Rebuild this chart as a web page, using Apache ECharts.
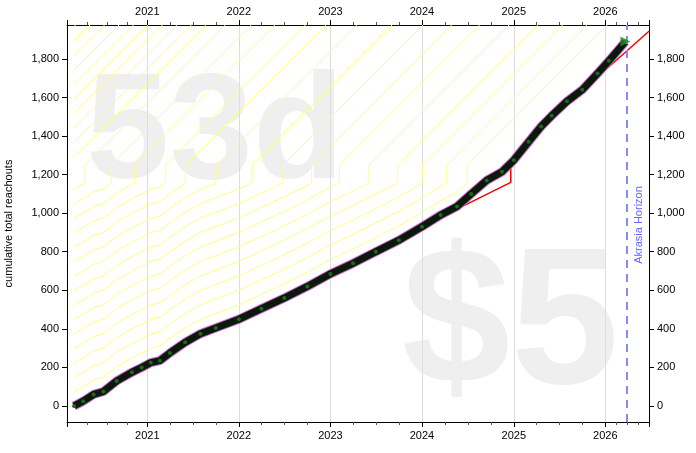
<!DOCTYPE html>
<html><head><meta charset="utf-8">
<script src="https://cdn.jsdelivr.net/npm/echarts@6/dist/echarts.min.js"></script>
<style>html,body{margin:0;padding:0;background:#fff}#c{width:696px;height:453px}</style>
</head><body><div id="c"></div>
<script>
const dataDates = ['2020-03-15','2020-04-20','2020-06-01','2020-07-10','2020-09-01','2020-11-01','2020-12-10','2021-01-15','2021-02-20','2021-04-01','2021-06-01','2021-08-01','2021-10-01','2022-01-01','2022-04-01','2022-07-01','2022-10-01','2023-01-01','2023-04-01','2023-07-01','2023-10-01','2024-01-01','2024-03-15','2024-05-20','2024-07-15','2024-09-15','2024-11-15','2025-01-01','2025-03-01','2025-04-20','2025-06-01','2025-08-01','2025-10-01','2025-12-01','2026-01-15','2026-03-22'];
const dataValues = [0,25,60,75,130,175,200,225,235,275,330,375,405,450,505,560,620,685,740,800,860,930,990,1035,1100,1170,1215,1275,1370,1450,1505,1580,1640,1725,1790,1890];
const roadDates = ['2024-06-10','2024-12-20','2024-12-20','2025-03-01','2025-06-01','2025-09-01','2025-12-25','2026-06-25'];
const roadValues = [1035,1160,1235,1350,1490,1600,1735,1945];
const guideOffsets = [75,150,225,300,375,450,525,600,675,750,825,900,975,1050,1125,1200,1275,1350,1425,1500,1575,1650,1725,1800,1875];
const guideStepLow = 1157, guideStepHigh = 1250, guideSteepPerYear = 475;
const yTicks = [0,200,400,600,800,1000,1200,1400,1600,1800];
const horizonDate = '2026-03-28';

const ts = d => new Date(d + 'T00:00:00Z').getTime();
const YR = 365.25*86400000;
const xMin = ts('2020-02-16'), xMax = ts('2026-06-24');
function guideLine(o){
  const pts=[]; const xs=dataDates.map(ts);
  const steep = (x0,v0)=>{ const x1 = x0 + (2100-v0)/guideSteepPerYear*YR; pts.push([x0,v0],[x1,2100]); };
  if (dataValues[0]+o >= guideStepLow){ steep(xs[0], dataValues[0]+o+(guideStepHigh-guideStepLow)); return pts; }
  for(let i=0;i<xs.length;i++){
    const v=dataValues[i]+o;
    if(v>=guideStepLow){
      const vp=dataValues[i-1]+o, t=(guideStepLow-vp)/(v-vp), xc=xs[i-1]+t*(xs[i]-xs[i-1]);
      pts.push([xc,guideStepLow]); steep(xc,guideStepHigh); return pts;
    }
    pts.push([xs[i],v]);
  }
  return pts;
}
const series = [];
guideOffsets.forEach(o => series.push({type:'line', silent:true, symbol:'none',
  lineStyle:{color:'#ffff80', width:1}, data: guideLine(o), z:1}));
series.push({type:'line', symbol:'none', lineStyle:{color:'#ff0000',width:1.5}, data: roadDates.map((d,i)=>[ts(d),roadValues[i]]), z:2});
series.push({type:'line', symbol:'none', lineStyle:{color:'#cc66cc',width:9}, data: dataDates.map((d,i)=>[ts(d),dataValues[i]]), z:3});
series.push({type:'line', symbol:'circle', symbolSize:4, itemStyle:{color:'#1a6b1a'}, lineStyle:{color:'#0a1a0a',width:7},
  data: dataDates.map((d,i)=>[ts(d),dataValues[i]]), z:4,
  markLine:{silent:true, symbol:'none', lineStyle:{color:'#8888ff', type:[8,6], width:2}, label:{show:false}, data:[{xAxis: ts(horizonDate)}]}});
series.push({type:'scatter', symbol:'triangle', symbolRotate:-90, symbolSize:10, itemStyle:{color:'#228b22'}, data:[[ts(dataDates[dataDates.length-1]), dataValues[dataValues.length-1]]], z:5});

const xCommon = {type:'time', min:xMin, max:xMax, splitNumber:6,
  axisLine:{onZero:false, lineStyle:{color:'#000'}}, axisTick:{lineStyle:{color:'#000'}},
  minorTick:{show:true, splitNumber:4, length:3, lineStyle:{color:'#555'}},
  axisLabel:{color:'#000', fontSize:11, fontFamily:'Liberation Sans', formatter: v=> new Date(v).getUTCFullYear()+'' }};
const yCommon = {type:'value', min:-83, max:1976, axisLine:{show:true, onZero:false, lineStyle:{color:'#000'}}, splitLine:{show:false},
  axisTick:{show:true, customValues:yTicks, lineStyle:{color:'#000'}},
  axisLabel:{color:'#000', fontSize:11, fontFamily:'Liberation Sans', customValues:yTicks, formatter: v=>v.toLocaleString('en-US')}};
const chart = echarts.init(document.getElementById('c'));
chart.setOption({
  animation:false,
  grid:{left:67, right:47, top:25, bottom:31, outerBoundsMode:'none'},
  xAxis:[Object.assign({}, xCommon, {position:'bottom', splitLine:{show:true, lineStyle:{color:'#ddd'}}}),
         Object.assign({}, xCommon, {position:'top', splitLine:{show:false}})],
  yAxis:[Object.assign({}, yCommon, {position:'left', name:'cumulative total reachouts', nameLocation:'middle', nameGap:53, nameTextStyle:{color:'#000', fontSize:11, fontFamily:'Liberation Sans'}}),
         Object.assign({}, yCommon, {position:'right'})],
  graphic:[
    {type:'text', left:86, top:62, z:0, style:{text:'53d', font:'bold 150px "Liberation Sans"', fill:'#efefef'}},
    {type:'text', left:402, top:232, z:0, style:{text:'$5', font:'bold 195px "Liberation Sans"', fill:'#efefef'}},
    {type:'text', x:639, y:225, rotation:Math.PI/2, z:10, style:{text:'Akrasia Horizon', font:'11px "Liberation Sans"', fill:'#6666ff', align:'center', verticalAlign:'middle'}}
  ],
  series
});
</script></body></html>
